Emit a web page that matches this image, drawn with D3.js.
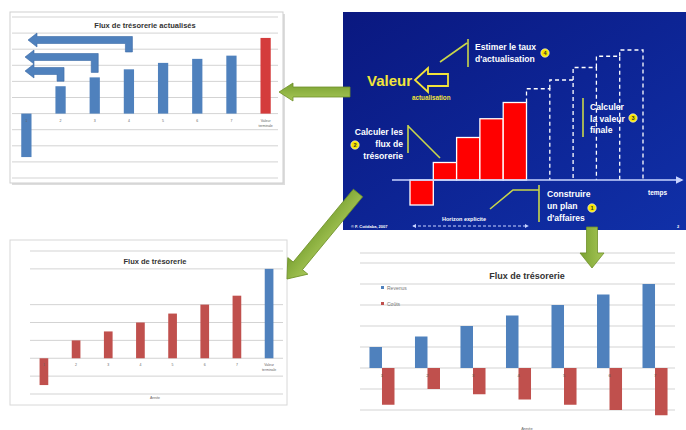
<!DOCTYPE html>
<html>
<head>
<meta charset="utf-8">
<script src="https://cdn.jsdelivr.net/npm/d3@7"></script>
<style>
  body { margin: 0; background: #fff; }
  text { font-family: "Liberation Sans", Arial, sans-serif; }
</style>
</head>
<body>
<svg id="chart" width="686" height="430"></svg>
<script>
// Data
const periods = ["1", "2", "3", "4", "5", "6", "7", "Valeur terminale"];
const discountedFlows = [-2.7, 1.7, 2.25, 2.75, 3.15, 3.4, 3.6, 4.7];
const cashFlows = [-1.5, 1, 1.5, 2, 2.5, 3, 3.5, 5];
const years = ["1", "2", "3", "4", "5", "6", "7"];
const revenus = [1, 1.5, 2, 2.5, 3, 3.5, 4];
const couts = [-1.75, -1, -1.25, -1.5, -1.75, -2, -2.25];
const slideExplicit = [-1, 0.7, 1.7, 2.45, 3.1];
const slideTerminal = [3.65, 4.0, 4.5, 4.95, 5.2];

const BLUE = "#4f81bd", RED = "#c0504d";
const svg = d3.select("#chart");
svg.append("rect").attr("width", 686).attr("height", 430).attr("fill", "#fff");

const defs = svg.append("defs");
let grad = defs.append("linearGradient").attr("id", "slideBg")
  .attr("x1", 0).attr("y1", 0).attr("x2", 1).attr("y2", 1);
grad.append("stop").attr("offset", "0%").attr("stop-color", "#0a1880");
grad.append("stop").attr("offset", "100%").attr("stop-color", "#1030a8");
let g2 = defs.append("linearGradient").attr("id", "greenG")
  .attr("x1", 0).attr("y1", 0).attr("x2", 0).attr("y2", 1);
g2.append("stop").attr("offset", "0%").attr("stop-color", "#a6c656");
g2.append("stop").attr("offset", "100%").attr("stop-color", "#7aa232");
defs.append("marker").attr("id", "axHead").attr("viewBox", "0 0 10 10")
  .attr("refX", 8).attr("refY", 5).attr("markerWidth", 5).attr("markerHeight", 5)
  .attr("orient", "auto")
  .append("path").attr("d", "M0,0L10,5L0,10z").attr("fill", "#c8d4ff");
defs.append("marker").attr("id", "dashHead").attr("viewBox", "0 0 10 10")
  .attr("refX", 8).attr("refY", 5).attr("markerWidth", 4).attr("markerHeight", 4)
  .attr("orient", "auto-start-reverse")
  .append("path").attr("d", "M0,0L10,5L0,10z").attr("fill", "#c8d4ff");

// ---------- Panel 1 : flux actualisés (top left) ----------
let p1 = svg.append("g");
p1.append("rect").attr("x", 12).attr("y", 14).attr("width", 273).attr("height", 171)
  .attr("fill", "#ddd");
p1.append("rect").attr("x", 10).attr("y", 12).attr("width", 273).attr("height", 171)
  .attr("fill", "#fff").attr("stroke", "#cfcfcf");
let x1 = d3.scaleBand().domain(periods).range([11, 281]).paddingInner(0.7).paddingOuter(0.3);
let y1 = d3.scaleLinear().domain([-4, 6]).range([178, 17]);
p1.selectAll("line.grid").data(d3.range(-4, 7)).join("line")
  .attr("x1", 12).attr("x2", 278).attr("y1", d => y1(d)).attr("y2", d => y1(d))
  .attr("stroke", "#c8c8c8").attr("stroke-width", 0.8);
p1.append("text").attr("x", 145).attr("y", 28).attr("text-anchor", "middle")
  .attr("font-size", 7.5).attr("font-weight", "bold").attr("fill", "#333")
  .text("Flux de trésorerie actualisés");
p1.selectAll("rect.bar").data(discountedFlows).join("rect")
  .attr("x", (d, i) => x1(periods[i])).attr("width", x1.bandwidth())
  .attr("y", d => y1(Math.max(0, d))).attr("height", d => Math.abs(y1(d) - y1(0)))
  .attr("fill", (d, i) => i === periods.length - 1 ? "#d43c3c" : BLUE);
p1.selectAll("text.tick").data(periods).join("text")
  .attr("x", d => x1(d) + x1.bandwidth() / 2).attr("y", y1(0) + 8)
  .attr("text-anchor", "middle").attr("font-size", 3.5).attr("fill", "#666")
  .each(function (d) {
    let words = d.split(" ");
    d3.select(this).selectAll("tspan").data(words).join("tspan")
      .attr("x", d3.select(this).attr("x")).attr("dy", (w, k) => k ? 5 : 0).text(w => w);
  });
// bent discount arrows going back to year 0
const bentArrows = [{ bar: 3, y: 40, tip: 28 }, { bar: 2, y: 57, tip: 25 }, { bar: 1, y: 71, tip: 25 }];
bentArrows.forEach(a => {
  let cx = x1(periods[a.bar]) + x1.bandwidth() / 2;
  let endY = a.bar === 3 ? 52 : y1(discountedFlows[a.bar]) - 5;
  let t = 3.5;
  let path = `M${a.tip},${a.y} L${a.tip + 9},${a.y - 7} L${a.tip + 9},${a.y - t} L${cx + t},${a.y - t}
    L${cx + t},${endY} L${cx - t},${endY} L${cx - t},${a.y + t} L${a.tip + 9},${a.y + t} L${a.tip + 9},${a.y + 7} Z`;
  p1.append("path").attr("d", path).attr("fill", BLUE).attr("stroke", "#3a6aa6").attr("stroke-width", 0.6);
});

// ---------- Slide (top right) ----------
let s = svg.append("g");
s.append("rect").attr("x", 343).attr("y", 12).attr("width", 343).attr("height", 218)
  .attr("fill", "url(#slideBg)");
let xs = d3.scaleBand().domain(d3.range(10)).range([410, 643]);
let ys = d3.scaleLinear().domain([0, 5.2]).range([180, 50]);
s.selectAll("rect.red").data(slideExplicit).join("rect")
  .attr("x", (d, i) => xs(i)).attr("width", xs.bandwidth())
  .attr("y", d => ys(Math.max(0, d))).attr("height", d => Math.abs(ys(d) - ys(0)))
  .attr("fill", "#ff0000").attr("stroke", "#fff").attr("stroke-width", 1.3);
s.selectAll("path.dash").data(slideTerminal).join("path")
  .attr("d", (d, i) => {
    let prev = i === 0 ? slideExplicit[slideExplicit.length - 1] : slideTerminal[i - 1];
    let x0 = xs(i + 5), xe = x0 + xs.bandwidth();
    return `M${x0},${ys(prev)}L${x0},${ys(d)}L${xe},${ys(d)}L${xe},${ys(0)}`;
  })
  .attr("fill", "none").attr("stroke", "#fff").attr("stroke-width", 1.3).attr("stroke-dasharray", "4,3");
s.append("line").attr("x1", 392).attr("x2", 682).attr("y1", ys(0)).attr("y2", ys(0))
  .attr("stroke", "#c8d4ff").attr("stroke-width", 1.6).attr("marker-end", "url(#axHead)");

const YEL = "#f2e43a", LINEY = "#c9d64a";
function slideText(x, y, lines, opts) {
  let t = s.append("text").attr("x", x).attr("y", y)
    .attr("font-size", opts.size).attr("font-weight", "bold")
    .attr("fill", opts.fill || "#fff").attr("text-anchor", opts.anchor || "start");
  lines.forEach((l, k) => t.append("tspan").attr("x", x).attr("dy", k ? opts.lh : 0).text(l));
}
function badge(x, y, n) {
  s.append("circle").attr("cx", x).attr("cy", y).attr("r", 4.2).attr("fill", "#f5e400")
    .attr("stroke", "#fff").attr("stroke-width", 0.6);
  s.append("text").attr("x", x).attr("y", y + 2.2).attr("text-anchor", "middle")
    .attr("font-size", 5.5).attr("font-weight", "bold").attr("fill", "#333").text(n);
}
function yLine(d) {
  s.append("path").attr("d", d).attr("fill", "none").attr("stroke", LINEY).attr("stroke-width", 1.6);
}

slideText(367, 86, ["Valeur"], { size: 15, fill: YEL });
s.append("path").attr("d", "M415,80 L428,68 L428,74 L448,74 L448,86 L428,86 L428,92 Z")
  .attr("fill", "none").attr("stroke", YEL).attr("stroke-width", 1.8);
slideText(412, 100, ["actualisation"], { size: 6.3, fill: YEL });

yLine("M440,62 L467,43 M468,39 L468,67");
slideText(475, 50, ["Estimer le taux", "d'actualisation"], { size: 8.6, lh: 12 });
badge(545, 53, "4");

yLine("M408,125 L408,153 M408,126 L440,158");
slideText(403, 135, ["Calculer les", "flux de", "trésorerie"], { size: 8.6, lh: 12, anchor: "end" });
badge(355, 145, "2");

yLine("M583,98 L583,137");
slideText(590, 110, ["Calculer", "la valeur", "finale"], { size: 8.6, lh: 11.5 });
badge(633, 118, "3");

yLine("M490,209 L513,190 L539,190 M539,185 L539,222");
slideText(547, 197, ["Construire", "un plan", "d'affaires"], { size: 8.6, lh: 12 });
badge(592, 208, "1");

slideText(648, 195, ["temps"], { size: 6.5 });
slideText(442, 221, ["Horizon explicite"], { size: 5.5 });
s.append("line").attr("x1", 413).attr("x2", 528).attr("y1", 226).attr("y2", 226)
  .attr("stroke", "#c8d4ff").attr("stroke-width", 1).attr("stroke-dasharray", "3,2")
  .attr("marker-start", "url(#dashHead)").attr("marker-end", "url(#dashHead)");
slideText(351, 228, ["© F. Cotidaba, 2007"], { size: 4 });
slideText(677, 228, ["2"], { size: 4 });

// ---------- Panel 2 : flux de trésorerie (bottom left) ----------
let p2 = svg.append("g");
p2.append("rect").attr("x", 10).attr("y", 240).attr("width", 277).attr("height", 165)
  .attr("fill", "#fff").attr("stroke", "#d8d8d8");
let x2 = d3.scaleBand().domain(periods).range([28, 285]).paddingInner(0.73).paddingOuter(0.36);
let y2 = d3.scaleLinear().domain([-2, 6]).range([394, 251]);
p2.selectAll("line.grid").data(d3.range(-2, 7).filter(d => d !== 4)).join("line")
  .attr("x1", 30).attr("x2", 283).attr("y1", d => y2(d)).attr("y2", d => y2(d))
  .attr("stroke", "#c8c8c8").attr("stroke-width", 0.8);
p2.append("text").attr("x", 155).attr("y", 264).attr("text-anchor", "middle")
  .attr("font-size", 7.5).attr("font-weight", "bold").attr("fill", "#333").text("Flux de trésorerie");
p2.selectAll("rect.bar").data(cashFlows).join("rect")
  .attr("x", (d, i) => x2(periods[i])).attr("width", x2.bandwidth())
  .attr("y", d => y2(Math.max(0, d))).attr("height", d => Math.abs(y2(d) - y2(0)))
  .attr("fill", (d, i) => i === periods.length - 1 ? BLUE : RED);
p2.selectAll("text.tick").data(periods).join("text")
  .attr("x", d => x2(d) + x2.bandwidth() / 2).attr("y", y2(0) + 8)
  .attr("text-anchor", "middle").attr("font-size", 3.5).attr("fill", "#666")
  .each(function (d) {
    let words = d.split(" ");
    d3.select(this).selectAll("tspan").data(words).join("tspan")
      .attr("x", d3.select(this).attr("x")).attr("dy", (w, k) => k ? 5 : 0).text(w => w);
  });
p2.append("text").attr("x", 155).attr("y", 399).attr("text-anchor", "middle")
  .attr("font-size", 3.5).attr("fill", "#666").text("Année");

// ---------- Panel 3 : revenus / coûts (bottom right) ----------
let p3 = svg.append("g");
let x3 = d3.scaleBand().domain(years).range([359, 678]).paddingInner(0.45).paddingOuter(0.23);
let x3s = d3.scaleBand().domain(["rev", "cout"]).range([0, x3.bandwidth()]);
let y3 = d3.scaleLinear().domain([-2, 5]).range([410, 263]);
p3.append("line").attr("x1", 360).attr("x2", 675).attr("y1", 253).attr("y2", 253)
  .attr("stroke", "#c8c8c8").attr("stroke-width", 0.8);
p3.selectAll("line.grid").data(d3.range(-2, 6)).join("line")
  .attr("x1", 360).attr("x2", 675).attr("y1", d => y3(d)).attr("y2", d => y3(d))
  .attr("stroke", "#c8c8c8").attr("stroke-width", 0.8);
p3.append("text").attr("x", 527).attr("y", 279).attr("text-anchor", "middle")
  .attr("font-size", 9).attr("font-weight", "bold").attr("fill", "#333").text("Flux de trésorerie");
p3.selectAll("rect.rev").data(revenus).join("rect")
  .attr("x", (d, i) => x3(years[i]) + x3s("rev")).attr("width", x3s.bandwidth())
  .attr("y", d => y3(d)).attr("height", d => y3(0) - y3(d)).attr("fill", BLUE);
p3.selectAll("rect.cout").data(couts).join("rect")
  .attr("x", (d, i) => x3(years[i]) + x3s("cout")).attr("width", x3s.bandwidth())
  .attr("y", y3(0)).attr("height", d => y3(d) - y3(0)).attr("fill", RED);
p3.selectAll("text.tick").data(years).join("text")
  .attr("x", d => x3(d) + x3.bandwidth() / 2).attr("y", y3(0) + 9)
  .attr("text-anchor", "middle").attr("font-size", 4).attr("fill", "#555").text(d => d);
const legend = [{ label: "Revenus", c: BLUE }, { label: "Coûts", c: RED }];
legend.forEach((l, k) => {
  p3.append("rect").attr("x", 381).attr("y", 286 + k * 16).attr("width", 3).attr("height", 3).attr("fill", l.c);
  p3.append("text").attr("x", 387).attr("y", 289.5 + k * 16).attr("font-size", 5).attr("fill", "#777").text(l.label);
});
p3.append("text").attr("x", 527).attr("y", 430).attr("text-anchor", "middle")
  .attr("font-size", 4).attr("fill", "#666").text("Année");

// ---------- Green arrows linking the pictures ----------
function greenArrow(x0, y0, x1, y1, shaft, head, headLen) {
  let a = Math.atan2(y1 - y0, x1 - x0), L = Math.hypot(x1 - x0, y1 - y0);
  let p = [[0, -shaft / 2], [L - headLen, -shaft / 2], [L - headLen, -head / 2], [L, 0],
           [L - headLen, head / 2], [L - headLen, shaft / 2], [0, shaft / 2]];
  svg.append("path")
    .attr("d", "M" + p.map(q => q.join(",")).join("L") + "Z")
    .attr("transform", `translate(${x0},${y0}) rotate(${a * 180 / Math.PI})`)
    .attr("fill", "url(#greenG)").attr("stroke", "#6e9128").attr("stroke-width", 0.8);
}
greenArrow(350, 92, 279, 92, 10, 18, 14);
greenArrow(358, 193, 287, 279, 12, 26, 17);
greenArrow(592, 227, 592, 268, 11, 24, 15);
</script>
</body>
</html>
